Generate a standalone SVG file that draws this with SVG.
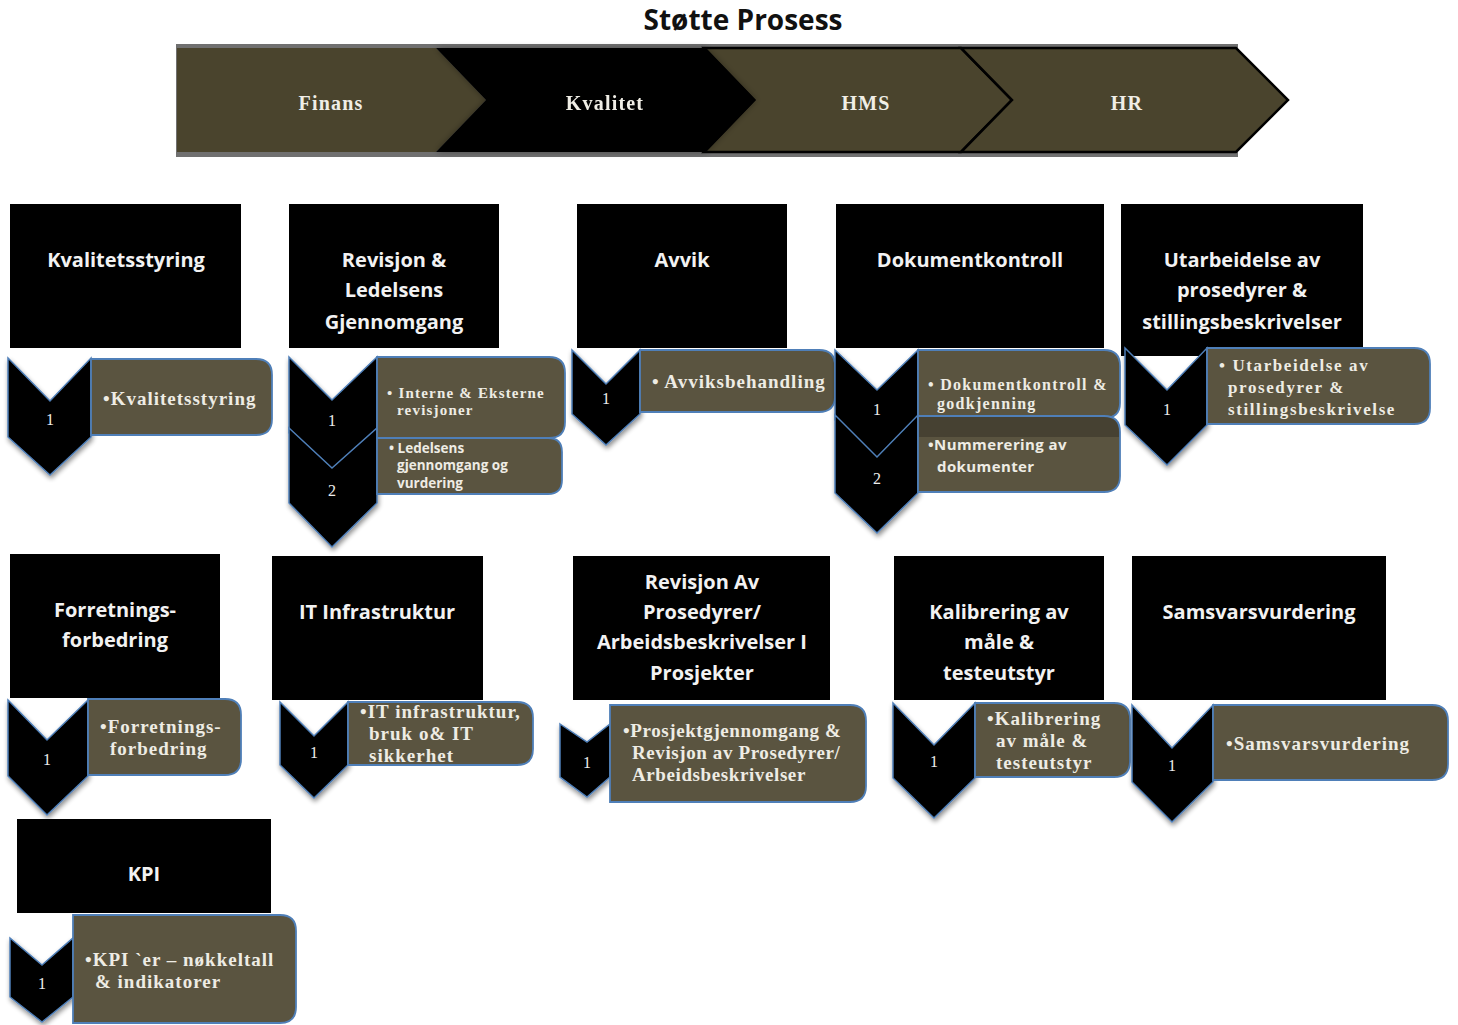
<svg xmlns="http://www.w3.org/2000/svg" width="1458" height="1025" viewBox="0 0 1458 1025">
  <defs>
    <filter id="shadow" x="-20%" y="-20%" width="140%" height="140%">
      <feGaussianBlur in="SourceAlpha" stdDeviation="2.5"/>
      <feOffset dx="1" dy="3" result="b"/>
      <feComponentTransfer><feFuncA type="linear" slope="0.45"/></feComponentTransfer>
      <feMerge><feMergeNode/><feMergeNode in="SourceGraphic"/></feMerge>
    </filter>
    <filter id="soft" x="-10%" y="-20%" width="120%" height="140%">
      <feGaussianBlur in="SourceAlpha" stdDeviation="3"/>
      <feComponentTransfer><feFuncA type="linear" slope="0.35"/></feComponentTransfer>
      <feMerge><feMergeNode/><feMergeNode in="SourceGraphic"/></feMerge>
    </filter>
  </defs>
  <style>
    .title { font-family: "Open Sans", "Liberation Sans", sans-serif; font-weight: 700; font-size: 28px; fill: #111; }
    .stage { fill: #4a442d; }
    .stage-dark { fill: #000; }
    .stage-text { font-family: "Liberation Serif", serif; font-weight: 700; font-size: 20px; letter-spacing: 1.2px; fill: #f0eee6; text-anchor: middle; }
    .head { fill: #000; }
    .head-text { font-family: "Open Sans", "Liberation Sans", sans-serif; font-weight: 700; font-size: 20px; fill: #f2f2f2; text-anchor: middle; }
    .chev { fill: #000; stroke: #4f7fb8; stroke-width: 1.5; stroke-linejoin: miter; }
    .num { font-family: "Liberation Serif", serif; font-size: 16px; fill: #eee; text-anchor: middle; }
    .box { fill: #5a5440; stroke: #4f7fb8; stroke-width: 1.8; }
    .txt { font-family: "Liberation Serif", serif; font-weight: 700; font-size: 19px; letter-spacing: 1px; fill: #eeece4; }
    .txt-s { font-family: "Liberation Serif", serif; font-weight: 700; font-size: 15px; letter-spacing: 1.2px; fill: #eeece4; }
    .txt-m { font-family: "Liberation Serif", serif; font-weight: 700; font-size: 17px; letter-spacing: 1.6px; fill: #eeece4; }
    .txt-sans { font-family: "Open Sans", "Liberation Sans", sans-serif; font-weight: 700; font-size: 13.5px; fill: #eeece4; }
    .txt-sans-m { font-family: "Open Sans", "Liberation Sans", sans-serif; font-weight: 700; font-size: 15px; letter-spacing: 0.4px; fill: #eeece4; }
  </style>

  <text class="title" x="743" y="30" text-anchor="middle">Støtte Prosess</text>

  <!-- process banner -->
  <g id="banner">
    <rect x="176" y="44" width="1062" height="113" fill="#707070"/>
    <g id="stage-finans">
      <polygon class="stage" points="177,48 436,48 486,100 436,152 177,152"/>
      <text class="stage-text" x="331" y="110">Finans</text>
    </g>
    <g id="stage-hms">
      <polygon class="stage" points="704,48 961,48 1012,100 961,152 704,152 754,100" stroke="#000" stroke-width="2.5"/>
      <text class="stage-text" x="866" y="110">HMS</text>
    </g>
    <g id="stage-hr">
      <polygon class="stage" points="961,48 1236,48 1288,100 1236,152 961,152 1012,100" stroke="#000" stroke-width="2.5"/>
      <text class="stage-text" x="1127" y="110">HR</text>
    </g>
    <g id="stage-kvalitet" filter="url(#soft)">
      <polygon class="stage-dark" points="436,48 706,48 756,100 706,152 436,152 486,100"/>
      <text class="stage-text" x="605" y="110">Kvalitet</text>
    </g>
  </g>

  <!-- row 1 -->
  <g id="kvalitetsstyring">
    <rect class="head" x="10" y="204" width="231" height="144"/>
    <text class="head-text" x="126" y="267">Kvalitetsstyring</text>
    <g filter="url(#shadow)">
      <polygon class="chev" points="8,358 50,401 91,358 91,437 50,475 8,437"/>
    </g>
    <text class="num" x="50" y="425">1</text>
    <path class="box" d="M91,359 H256 Q272,359 272,375 V419 Q272,435 256,435 H91 Z"/>
    <text class="txt" x="103" y="405">•Kvalitetsstyring</text>
  </g>

  <g id="revisjon-ledelsens">
    <rect class="head" x="289" y="204" width="210" height="144"/>
    <text class="head-text" x="394" y="267">Revisjon &amp;</text>
    <text class="head-text" x="394" y="297">Ledelsens</text>
    <text class="head-text" x="394" y="329">Gjennomgang</text>
    <g filter="url(#shadow)">
      <polygon class="chev" points="289,357 332,400 377,357 377,433 332,475 289,433"/>
      <polygon class="chev" points="289,428 332,468 377,428 377,503 332,547 289,503"/>
    </g>
    <text class="num" x="332" y="426">1</text>
    <text class="num" x="332" y="496">2</text>
    <path class="box" d="M377,357 H549 Q565,357 565,373 V422 Q565,438 549,438 H377 Z"/>
    <text class="txt-s" x="387" y="398">• Interne &amp; Eksterne</text>
    <text class="txt-s" x="397" y="415">revisjoner</text>
    <path class="box" d="M377,438 H548 Q562,438 562,452 V480 Q562,494 548,494 H377 Z"/>
    <text class="txt-sans" x="389" y="453">• Ledelsens</text>
    <text class="txt-sans" x="397" y="470">gjennomgang og</text>
    <text class="txt-sans" x="397" y="488">vurdering</text>
  </g>

  <g id="avvik">
    <rect class="head" x="577" y="204" width="210" height="144"/>
    <text class="head-text" x="682" y="267">Avvik</text>
    <g filter="url(#shadow)">
      <polygon class="chev" points="572,350 606,384 640,350 640,414 606,445 572,414"/>
    </g>
    <text class="num" x="606" y="404">1</text>
    <path class="box" d="M640,350 H819 Q835,350 835,366 V396 Q835,412 819,412 H640 Z"/>
    <text class="txt" x="652" y="388">• Avviksbehandling</text>
  </g>

  <g id="dokumentkontroll">
    <rect class="head" x="836" y="204" width="268" height="144"/>
    <text class="head-text" x="970" y="267">Dokumentkontroll</text>
    <g filter="url(#shadow)">
      <polygon class="chev" points="835,350 877,390 918,350 918,420 877,462 835,420"/>
      <polygon class="chev" points="835,415 877,457 918,415 918,493 877,533 835,493"/>
    </g>
    <text class="num" x="877" y="415">1</text>
    <text class="num" x="877" y="484">2</text>
    <path class="box" d="M918,350 H1104 Q1120,350 1120,366 V403 Q1120,418 1104,418 H918 Z"/>
    <text class="txt-s" x="928" y="390" style="font-size:16px;letter-spacing:1.3px">• Dokumentkontroll &amp;</text>
    <text class="txt-s" x="937" y="409" style="font-size:16px;letter-spacing:1.3px">godkjenning</text>
    <path class="box" d="M918,416 H1104 Q1120,416 1120,432 V476 Q1120,492 1104,492 H918 Z"/>
    <path d="M919,417 H1104 Q1119,417 1119,432 V437 H919 Z" fill="#000" opacity="0.22"/>
    <text class="txt-sans-m" x="928" y="450">•Nummerering av</text>
    <text class="txt-sans-m" x="937" y="472">dokumenter</text>
  </g>

  <g id="utarbeidelse">
    <rect class="head" x="1121" y="204" width="242" height="152"/>
    <text class="head-text" x="1242" y="267">Utarbeidelse av</text>
    <text class="head-text" x="1242" y="297">prosedyrer &amp;</text>
    <text class="head-text" x="1242" y="329">stillingsbeskrivelser</text>
    <g filter="url(#shadow)">
      <polygon class="chev" points="1125,348 1167,390 1207,348 1207,425 1167,465 1125,425"/>
    </g>
    <text class="num" x="1167" y="415">1</text>
    <path class="box" d="M1207,348 H1414 Q1430,348 1430,364 V408 Q1430,424 1414,424 H1207 Z"/>
    <text class="txt-m" x="1219" y="371">• Utarbeidelse av</text>
    <text class="txt-m" x="1228" y="393">prosedyrer &amp;</text>
    <text class="txt-m" x="1228" y="415">stillingsbeskrivelse</text>
  </g>

  <!-- row 2 -->
  <g id="forretningsforbedring">
    <rect class="head" x="10" y="554" width="210" height="144"/>
    <text class="head-text" x="115" y="617">Forretnings-</text>
    <text class="head-text" x="115" y="647">forbedring</text>
    <g filter="url(#shadow)">
      <polygon class="chev" points="8,700 47,740 88,700 88,776 47,815 8,776"/>
    </g>
    <text class="num" x="47" y="765">1</text>
    <path class="box" d="M88,699 H225 Q241,699 241,715 V759 Q241,775 225,775 H88 Z"/>
    <text class="txt" x="100" y="733">•Forretnings-</text>
    <text class="txt" x="110" y="755">forbedring</text>
  </g>

  <g id="it-infrastruktur">
    <rect class="head" x="272" y="556" width="211" height="144"/>
    <text class="head-text" x="377" y="619">IT Infrastruktur</text>
    <g filter="url(#shadow)">
      <polygon class="chev" points="280,702 314,736 348,702 348,765 314,798 280,765"/>
    </g>
    <text class="num" x="314" y="758">1</text>
    <path class="box" d="M348,702 H517 Q533,702 533,718 V749 Q533,765 517,765 H348 Z"/>
    <text class="txt" x="360" y="718">•IT infrastruktur,</text>
    <text class="txt" x="369" y="740">bruk o&amp; IT</text>
    <text class="txt" x="369" y="762">sikkerhet</text>
  </g>

  <g id="revisjon-prosedyrer">
    <rect class="head" x="573" y="556" width="257" height="144"/>
    <text class="head-text" x="702" y="589">Revisjon Av</text>
    <text class="head-text" x="702" y="619">Prosedyrer/</text>
    <text class="head-text" x="702" y="649">Arbeidsbeskrivelser I</text>
    <text class="head-text" x="702" y="680">Prosjekter</text>
    <g filter="url(#shadow)">
      <polygon class="chev" points="560,724 587,742 610,724 610,777 587,797 560,777"/>
    </g>
    <text class="num" x="587" y="768">1</text>
    <path class="box" d="M610,705 H850 Q866,705 866,721 V786 Q866,802 850,802 H610 Z"/>
    <text class="txt" x="623" y="737" style="letter-spacing:0.6px">•Prosjektgjennomgang &amp;</text>
    <text class="txt" x="632" y="759" style="letter-spacing:0.6px">Revisjon av Prosedyrer/</text>
    <text class="txt" x="632" y="781" style="letter-spacing:0.6px">Arbeidsbeskrivelser</text>
  </g>

  <g id="kalibrering">
    <rect class="head" x="894" y="556" width="210" height="144"/>
    <text class="head-text" x="999" y="619">Kalibrering av</text>
    <text class="head-text" x="999" y="649">måle &amp;</text>
    <text class="head-text" x="999" y="680">testeutstyr</text>
    <g filter="url(#shadow)">
      <polygon class="chev" points="893,703 934,745 975,703 975,778 934,818 893,778"/>
    </g>
    <text class="num" x="934" y="767">1</text>
    <path class="box" d="M975,703 H1114 Q1130,703 1130,719 V761 Q1130,777 1114,777 H975 Z"/>
    <text class="txt" x="987" y="725">•Kalibrering</text>
    <text class="txt" x="996" y="747">av måle &amp;</text>
    <text class="txt" x="996" y="769">testeutstyr</text>
  </g>

  <g id="samsvarsvurdering">
    <rect class="head" x="1132" y="556" width="254" height="144"/>
    <text class="head-text" x="1259" y="619">Samsvarsvurdering</text>
    <g filter="url(#shadow)">
      <polygon class="chev" points="1132,705 1172,748 1213,705 1213,782 1172,822 1132,782"/>
    </g>
    <text class="num" x="1172" y="771">1</text>
    <path class="box" d="M1213,705 H1432 Q1448,705 1448,721 V764 Q1448,780 1432,780 H1213 Z"/>
    <text class="txt" x="1226" y="750">•Samsvarsvurdering</text>
  </g>

  <!-- row 3 -->
  <g id="kpi">
    <rect class="head" x="17" y="819" width="254" height="94"/>
    <text class="head-text" x="144" y="881">KPI</text>
    <g filter="url(#shadow)">
      <polygon class="chev" points="10,938 42,965 73,938 73,997 42,1022 10,997"/>
    </g>
    <text class="num" x="42" y="989">1</text>
    <path class="box" d="M73,915 H280 Q296,915 296,931 V1007 Q296,1023 280,1023 H73 Z"/>
    <text class="txt" x="85" y="966">•KPI `er – nøkkeltall</text>
    <text class="txt" x="95" y="988">&amp; indikatorer</text>
  </g>
</svg>
